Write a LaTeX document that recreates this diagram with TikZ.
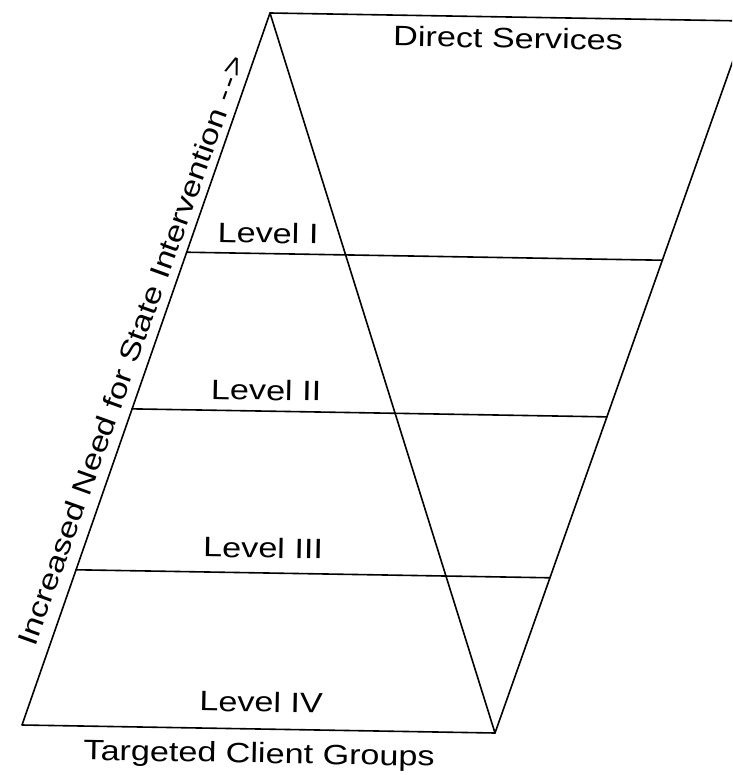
\documentclass[tikz,border=0pt]{standalone}
\usepackage{fontspec}
\setmainfont{Liberation Sans}[FakeStretch=1.22]
\usetikzlibrary{calc}
\begin{document}
\begin{tikzpicture}[x=1pt,y=-1pt,
  edge/.style={line width=1.6pt, line join=round, line cap=round},
  txt/.style={font=\fontsize{28}{30}\selectfont, inner sep=0pt, anchor=base},
  lbl/.style={txt, rotate=-1}]
\useasboundingbox (0,0) rectangle (732,775);
\clip (0,0) rectangle (732,775);
\coordinate (A) at (270,13);
\coordinate (TR) at (747,21);
\coordinate (BL) at (22,725);
\coordinate (BR) at (495,733);
\coordinate (L1) at ($(BL)!0.664!(A)$);
\coordinate (R1) at ($(BR)!0.664!(TR)$);
\coordinate (L2) at ($(BL)!0.444!(A)$);
\coordinate (R2) at ($(BR)!0.444!(TR)$);
\coordinate (L3) at ($(BL)!0.218!(A)$);
\coordinate (R3) at ($(BR)!0.218!(TR)$);
\draw[edge] (A) -- (TR) -- (BR) -- (BL) -- cycle;
\draw[edge] (A) -- (BR);
\draw[edge] (L1) -- (R1);
\draw[edge] (L2) -- (R2);
\draw[edge] (L3) -- (R3);
\node[lbl] (ds) at (508,48) {Direct Services};
\node[lbl] (l1) at (268,243) {Level I};
\node[lbl] (l2) at (266,400) {Level II};
\node[lbl] (l3) at (263,558) {Level III};
\node[lbl] (l4) at (261,712) {Level IV};
\node[lbl] (tcg) at (259,763) {Targeted Client Groups};
\node[txt, rotate=70.2] (side) at (141,353.5) {Increased Need for State Intervention -\kern3pt-\kern1pt>};
\end{tikzpicture}
\end{document}
